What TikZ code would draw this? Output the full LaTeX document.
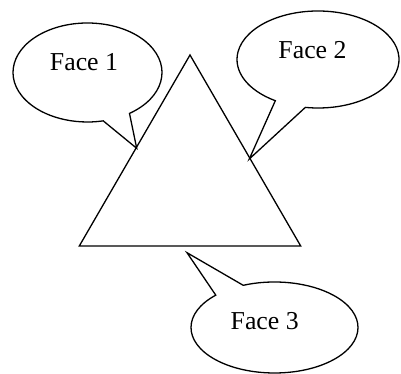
\documentclass[tikz,border=0pt]{standalone}
\usepackage{fontspec}
\setmainfont{Liberation Serif}
\begin{document}
\begin{tikzpicture}[x=1pt,y=1pt,
  outline/.style={draw=black, line width=1.3pt, line join=miter},
  facetext/.style={anchor=base, inner sep=0pt, font=\fontsize{25.8}{30}\selectfont}]
\useasboundingbox (0,0) rectangle (401,374);
% triangle corners
\coordinate (apex) at (190,319);
\coordinate (bl) at (79.3,128);
\coordinate (br) at (300.7,128);
\draw[outline] (apex) -- (bl) -- (br) -- cycle;
% callout tips
\coordinate (tip1) at (136.7,225.7);
\coordinate (tip2) at (249.3,215);
\coordinate (tip3) at (187,121.3);
% callout centres
\coordinate (c1) at (87.5,301.5);
\coordinate (c2) at (318,314.5);
\coordinate (c3) at (274.5,46.5);
% callout 1
\draw[outline] ([shift={(-55.7:74.5 and 49.5)}]c1)
  arc[start angle=-55.7, end angle=282.2, x radius=74.5, y radius=49.5] -- (tip1) -- cycle;
% callout 2
\draw[outline] ([shift={(-99:81 and 48.5)}]c2)
  arc[start angle=-99, end angle=238.2, x radius=81, y radius=48.5] -- (tip2) -- cycle;
% callout 3
\draw[outline] ([shift={(134.7:83.5 and 45.5)}]c3)
  arc[start angle=134.7, end angle=472, x radius=83.5, y radius=45.5] -- (tip3) -- cycle;
% texts
\node[facetext] (t1) at (84,303.3) {Face 1};
\node[facetext] (t2) at (312.5,315.7) {Face 2};
\node[facetext] (t3) at (264.7,44.7) {Face 3};
\end{tikzpicture}
\end{document}
